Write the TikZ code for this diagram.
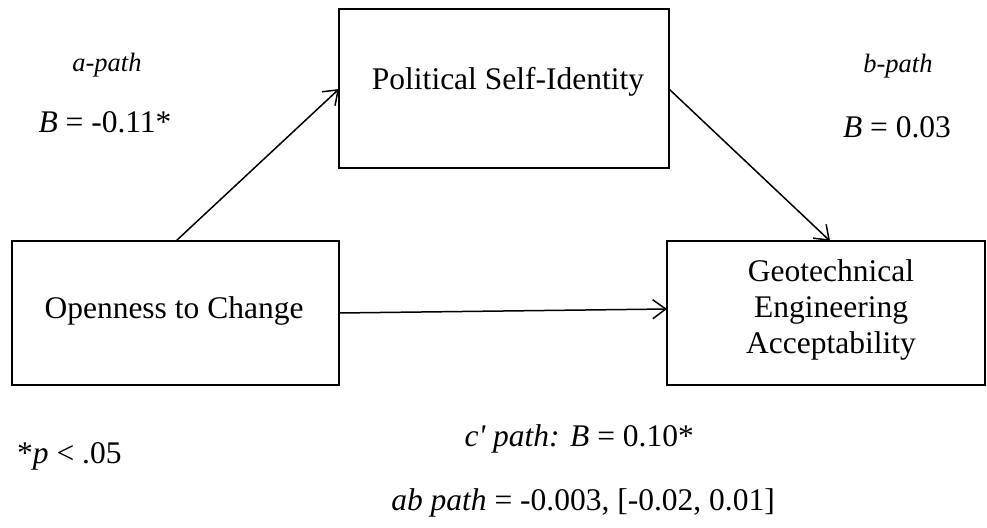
\documentclass[tikz,border=0pt]{standalone}
\usepackage{fontspec}
\setmainfont{Liberation Serif}[Ligatures=TeXOff]
\usetikzlibrary{arrows.meta}
\begin{document}
\begin{tikzpicture}[x=1pt,y=-1pt,
  boxnode/.style={draw=black,line width=1.5pt,rectangle,inner sep=0pt,outer sep=0pt},
  maintext/.style={inner sep=0pt,anchor=base,font=\fontsize{31.5}{36}\selectfont},
  labeltext/.style={inner sep=0pt,anchor=base,font=\fontsize{26.5}{30}\selectfont\itshape},
  patharrow/.style={line width=1.5pt,-{Straight Barb[length=13pt,width=19pt,line width=1.5pt]}}]
\useasboundingbox (0,0) rectangle (987,527);
% boxes
\node[boxnode,minimum width=330pt,minimum height=159pt] (pol) at (504,88.5) {};
\node[boxnode,minimum width=327pt,minimum height=144pt] (open) at (175.5,313) {};
\node[boxnode,minimum width=318pt,minimum height=144pt] (geo) at (826,313) {};
% box texts
\node[maintext] (poltxt) at (508,89) {Political Self-Identity};
\node[maintext] (opentxt) at (174,318) {Openness to Change};
\node[maintext] (geo1) at (831,281) {Geotechnical};
\node[maintext] (geo2) at (831,317) {Engineering};
\node[maintext] (geo3) at (831,353) {Acceptability};
% arrows
\draw[patharrow] ([xshift=164pt]open.north west) -- ([yshift=-80pt]pol.north west);
\draw[patharrow] ([yshift=-80pt]pol.north east) -- ([xshift=163pt]geo.north west);
\draw[patharrow] ([yshift=-72pt]open.north east) -- ([yshift=-68pt]geo.north west);
% labels
\node[labeltext] (apath) at (107,71) {a-path};
\node[maintext] (aB) at (105,132) {\textit{B} = -0.11*};
\node[labeltext] (bpath) at (898,72) {b-path};
\node[maintext] (bB) at (897,137) {\textit{B} = 0.03};
\node[maintext,anchor=base west] (sig) at (17,463) {*\textit{p} < .05};
\node[maintext,anchor=base east] (cpath) at (694,446) {\textit{c' path:} \textit{B} = 0.10*};
\node[maintext,anchor=base east] (abpath) at (775,510) {\textit{ab path} = -0.003, [-0.02, 0.01]};
\end{tikzpicture}
\end{document}
